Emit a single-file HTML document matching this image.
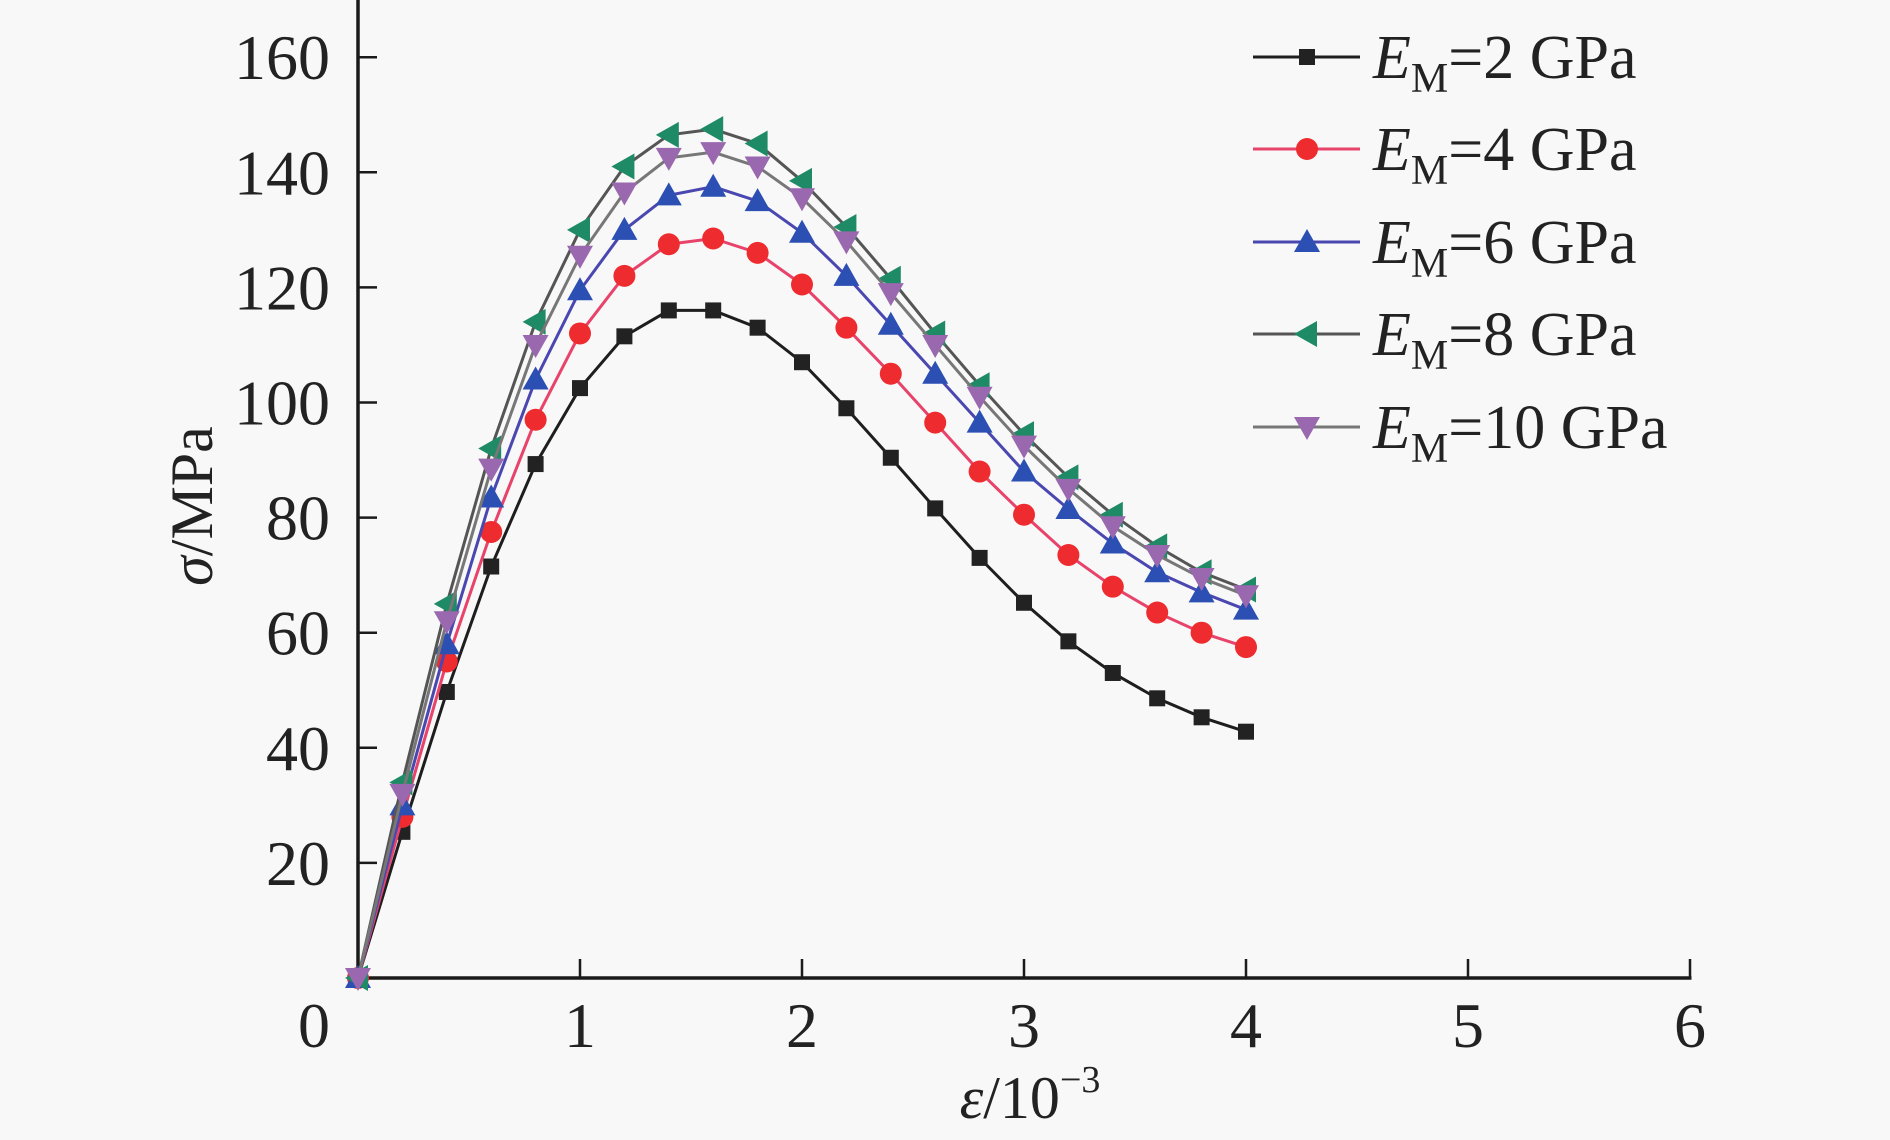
<!DOCTYPE html>
<html><head><meta charset="utf-8"><style>
html,body{margin:0;padding:0;background:#f8f8f8;}
svg{display:block;font-family:"Liberation Serif",serif;}
</style></head><body>
<svg id="chart" width="1890" height="1140" viewBox="0 0 1890 1140" xmlns="http://www.w3.org/2000/svg">
<rect width="1890" height="1140" fill="#f8f8f8"/>
<g id="axes"></g>
<g id="series"></g>
<g id="legend"></g>
<text transform="translate(212,506) rotate(-90)" text-anchor="middle" font-size="60" fill="#222"><tspan font-style="italic">σ</tspan>/MPa</text>
<text x="1030" y="1118" text-anchor="middle" font-size="60" fill="#222"><tspan font-style="italic">ε</tspan>/10<tspan font-size="38" dy="-26">−3</tspan></text>
</svg>
<script>
const xValues = [0,0.2,0.4,0.6,0.8,1.0,1.2,1.4,1.6,1.8,2.0,2.2,2.4,2.6,2.8,3.0,3.2,3.4,3.6,3.8,4.0];
const s2 = [0,25.4,49.7,71.5,89.3,102.5,111.5,116,116,113,107,99,90.4,81.6,73,65.2,58.5,53,48.6,45.3,42.8];
const s4 = [0,28,55,77.5,97,112,122,127.5,128.5,126,120.5,113,105,96.5,88,80.5,73.5,68,63.5,60,57.5];
const s6 = [0,30,58,83.5,104,119.5,130,136,137.5,135,129.5,122,113.5,105,96.5,88,81.5,75.5,70.5,67,64];
const s8 = [0,34,65,92,114,130,141,146.5,147.5,145,138.5,130.5,121.5,112,103,94.5,87,80.5,75,70.5,67.5];
const s10 = [0,32,62,88.5,110,125.5,136.5,142.5,143.5,141,135.5,128,119,110,101,92.5,85,78.5,73.5,69.5,66.5];
const seriesNames = ["EM=2 GPa","EM=4 GPa","EM=6 GPa","EM=8 GPa","EM=10 GPa"];
const legendValues = ["2","4","6","8","10"];
const xTicks = [0,1,2,3,4,5,6];
const yTicks = [20,40,60,80,100,120,140,160];

const NS="http://www.w3.org/2000/svg";
const X0=358, XU=222, Y0=978, YU=115.1/20;
function sx(v){return X0+v*XU;}
function sy(v){return Y0-v*YU;}
function mk(tag,attrs,parent){const e=document.createElementNS(NS,tag);for(const k in attrs)e.setAttribute(k,attrs[k]);parent.appendChild(e);return e;}

const axes=document.getElementById('axes');
let l=mk('line',{x1:X0,y1:0,x2:X0,y2:Y0+1.5,stroke:'#1a1a1a','stroke-width':3.5},axes);


l=mk('line',{x1:X0-1.5,y1:Y0,x2:sx(6)+1.5,y2:Y0,stroke:'#1a1a1a','stroke-width':3.5},axes);


xTicks.forEach(t=>{
  if(t>0){const tk=mk('line',{x1:sx(t),y1:Y0,x2:sx(t),y2:Y0-19,stroke:'#1a1a1a','stroke-width':2.5},axes);
  
  }
  const tx=mk('text',{x:t===0?sx(t)-44:sx(t),y:1047,'text-anchor':'middle','font-size':64,fill:'#222'},axes);
  tx.textContent=t;
  
  
});
yTicks.forEach(t=>{
  const tk=mk('line',{x1:X0,y1:sy(t),x2:X0+19,y2:sy(t),stroke:'#1a1a1a','stroke-width':2.5},axes);
  
  
  const tx=mk('text',{x:330,y:sy(t)+22,'text-anchor':'end','font-size':64,fill:'#222'},axes);
  tx.textContent=t;
  
  
});

const styles=[
 {data:s2,line:'#1e1e1e',fill:'#222',shape:'square'},
 {data:s4,line:'#e8436a',fill:'#ee2b2e',shape:'circle'},
 {data:s6,line:'#4a48b0',fill:'#2b4fb3',shape:'up'},
 {data:s8,line:'#555',fill:'#1f8a66',shape:'left'},
 {data:s10,line:'#777',fill:'#9a68ae',shape:'down'}
];
function marker(shape,x,y,fill,parent){
  let e;const r=11;
  if(shape==='square')e=mk('rect',{x:x-8,y:y-8,width:16,height:16,fill:fill},parent);
  else if(shape==='circle')e=mk('circle',{cx:x,cy:y,r:r,fill:fill},parent);
  else if(shape==='up')e=mk('polygon',{points:`${x},${y-13} ${x-13},${y+10} ${x+13},${y+10}`,fill:fill},parent);
  else if(shape==='down')e=mk('polygon',{points:`${x},${y+13} ${x-13},${y-10} ${x+13},${y-10}`,fill:fill},parent);
  else e=mk('polygon',{points:`${x-13},${y} ${x+10},${y-13} ${x+10},${y+13}`,fill:fill},parent);
  return e;
}
const sg=document.getElementById('series');
styles.forEach((s,i)=>{
  const g=mk('g',{},sg);
  
  
  const pts=s.data.map((v,j)=>sx(xValues[j])+','+sy(v)).join(' ');
  const pl=mk('polyline',{points:pts,fill:'none',stroke:s.line,'stroke-width':3},g);
  
  
  s.data.forEach((v,j)=>{
    const m=marker(s.shape,sx(xValues[j]),sy(v),s.fill,g);
    
    
  });
});
const lg=document.getElementById('legend');
const rowsY=[57,149,242,334,427];
styles.forEach((s,i)=>{
  const g=mk('g',{},lg);
  
  
  mk('line',{x1:1253,y1:rowsY[i],x2:1360,y2:rowsY[i],stroke:s.line,'stroke-width':3},g);
  marker(s.shape,1307,rowsY[i],s.fill,g);
  const t=mk('text',{x:1373,y:rowsY[i]+21,'font-size':62,fill:'#222'},g);
  const e=mk('tspan',{'font-style':'italic'},t);e.textContent='E';
  const m=mk('tspan',{'font-size':42,dy:14},t);m.textContent='M';
  const r=mk('tspan',{dy:-14},t);r.textContent='='+legendValues[i]+' GPa';
});
</script>
</body></html>
